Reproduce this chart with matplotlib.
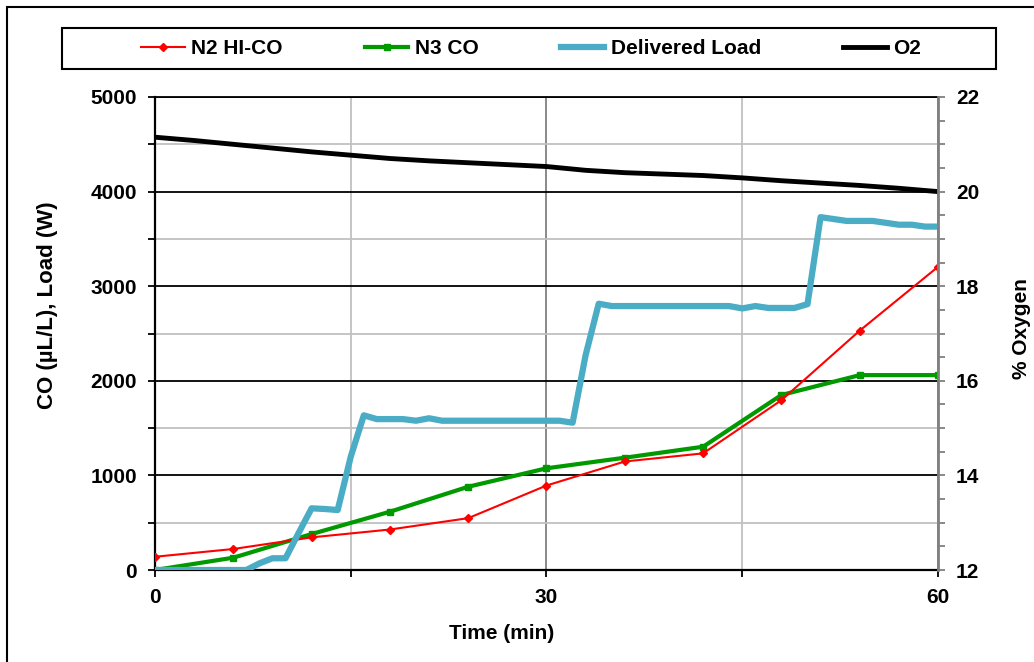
import matplotlib
matplotlib.use("Agg")
import matplotlib.pyplot as plt
from matplotlib.patches import Rectangle
from matplotlib.ticker import MultipleLocator

plt.rcParams["font.family"] = ["Liberation Sans", "DejaVu Sans"]
plt.rcParams["font.weight"] = "bold"

# CO samples every 6 min
time_co = [0, 6, 12, 18, 24, 30, 36, 42, 48, 54, 60]
n2_hi_co = [140, 222, 345, 428, 548, 893, 1147, 1233, 1795, 2530, 3205]
n3_co = [0, 130, 380, 616, 880, 1075, 1187, 1303, 1850, 2060, 2060]

# delivered load, one reading per minute
time_load = list(range(61))
load = [0, 0, 0, 0, 0, 0, 0, 0, 70, 124,
        124, 390, 652, 645, 634, 1198, 1635, 1595, 1595, 1595,
        1578, 1604, 1578, 1578, 1578, 1578, 1578, 1578, 1578, 1578,
        1578, 1578, 1557, 2273, 2815, 2790, 2790, 2790, 2790, 2790,
        2790, 2790, 2790, 2790, 2790, 2765, 2790, 2770, 2770, 2770,
        2810, 3730, 3710, 3690, 3690, 3690, 3670, 3650, 3650, 3630,
        3630]

# oxygen (%), every 3 min
time_o2 = [0, 3, 6, 9, 12, 15, 18, 21, 24, 27, 30, 33, 36, 39, 42, 45, 48, 51, 54, 57, 60]
o2 = [21.15, 21.08, 21.0, 20.92, 20.84, 20.77, 20.7, 20.65, 20.61, 20.57, 20.53,
      20.45, 20.4, 20.37, 20.34, 20.29, 20.23, 20.18, 20.13, 20.07, 20.0]

W, H = 1034, 662
fig = plt.figure(figsize=(W / 100, H / 100), dpi=100)
ax = fig.add_axes([155 / W, 1 - 570 / H, 783 / W, 473 / H])

l1, = ax.plot(time_co, n2_hi_co, color="#FF0000", lw=1.5, marker="D", ms=4.5, zorder=3)
l2, = ax.plot(time_co, n3_co, color="#009900", lw=3, marker="s", ms=5, zorder=2)
l3, = ax.plot(time_load, load, color="#4BACC6", lw=4.5, zorder=4)

ax.set_xlim(0, 60)
ax.set_ylim(0, 5000)
ax.xaxis.set_major_locator(MultipleLocator(30))
ax.xaxis.set_minor_locator(MultipleLocator(15))
ax.yaxis.set_major_locator(MultipleLocator(1000))
ax.yaxis.set_minor_locator(MultipleLocator(500))
ax.set_axisbelow(True)
ax.grid(which="major", axis="y", color="black", lw=1.3)
ax.grid(which="minor", axis="y", color="#C0C0C0", lw=1.3)
ax.grid(which="major", axis="x", color="#808080", lw=1.3)
ax.grid(which="minor", axis="x", color="#C0C0C0", lw=1.3)
ax.tick_params(axis="both", which="both", direction="out", length=5, width=1.3,
               labelsize=15, pad=8)
for s in ["left", "bottom"]:
    ax.spines[s].set_linewidth(1.6)
ax.spines["top"].set_linewidth(1.3)
ax.spines["right"].set_visible(False)

ax.set_xlabel("Time (min)", fontsize=15, fontweight="bold")
ax.xaxis.set_label_coords(0.443, -0.115)
ax.set_ylabel("CO (\u00b5L/L), Load (W)", fontsize=16, fontweight="bold")
ax.yaxis.set_label_coords(-0.124, 0.56)

ax2 = ax.twinx()
l4, = ax2.plot(time_o2, o2, color="black", lw=3.5)
ax2.set_ylim(12, 22)
ax2.yaxis.set_major_locator(MultipleLocator(2))
ax2.yaxis.set_minor_locator(MultipleLocator(0.5))
ax2.tick_params(axis="y", which="both", direction="out", length=5, width=1.3,
                color="#808080", labelsize=15, pad=8)
for s in ["left", "top", "bottom"]:
    ax2.spines[s].set_visible(False)
ax2.spines["right"].set_color("#808080")
ax2.spines["right"].set_linewidth(2)
ax2.set_ylabel("% Oxygen", fontsize=15, fontweight="bold")
ax2.yaxis.set_label_coords(1.094, 0.51)

# legend frame and entries
fig.patches.append(Rectangle((62 / W, 1 - 69 / H), 934 / W, 41 / H, transform=fig.transFigure,
                             fill=False, ec="black", lw=1.5))
fig.legend([l1, l2, l3, l4], ["N2 HI-CO", "N3 CO", "Delivered Load", "O2"],
           loc="center", bbox_to_anchor=(531 / W, 1 - 48.5 / H), ncol=4, frameon=False,
           handlelength=2.1, handletextpad=0.3, columnspacing=3.95,
           prop={"size": 15, "weight": "bold"})

# outer border of the pasted chart
fig.patches.append(Rectangle((7 / W, -0.1), 1.2, 1.1 - 7 / H, transform=fig.transFigure,
                             fill=False, ec="black", lw=1.5))

fig.savefig("out.png", dpi=100)
